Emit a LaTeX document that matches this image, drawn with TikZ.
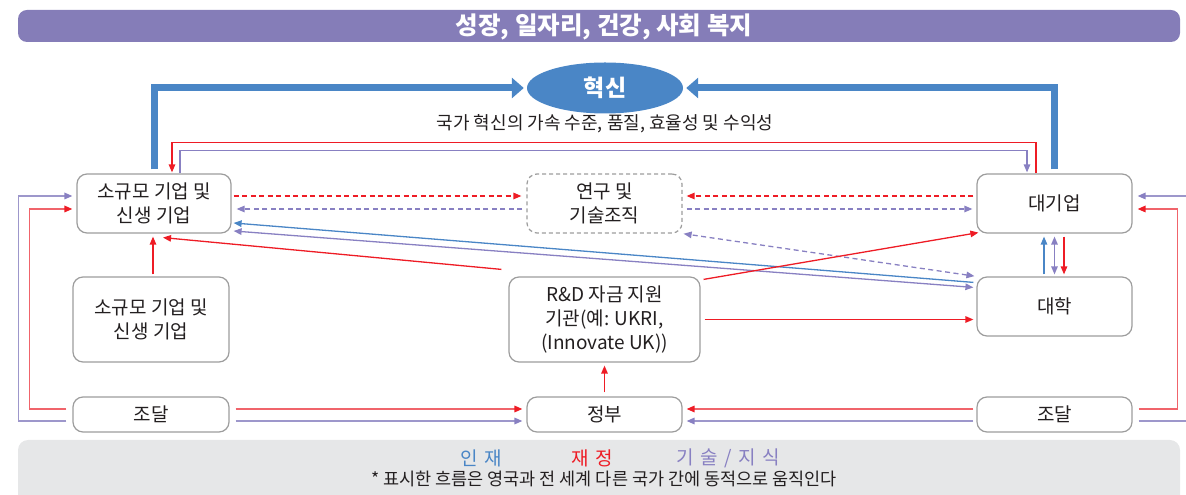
\documentclass[tikz,border=0pt]{standalone}
\usepackage{fontspec}
\setmainfont{Noto Sans CJK KR}
\usetikzlibrary{arrows.meta,shapes.geometric}

\definecolor{flowblue}{HTML}{4A86C6}
\definecolor{flowred}{HTML}{EE1C25}
\definecolor{flowpurple}{HTML}{8880C2}
\definecolor{softred}{HTML}{F0646B}
\definecolor{softpurple}{HTML}{9D97CB}
\definecolor{titlebar}{HTML}{857DB8}
\definecolor{notebg}{HTML}{E6E7E8}
\definecolor{boxline}{HTML}{9D9D9D}
\definecolor{inktext}{HTML}{231F20}

\tikzset{
  unit/.style={draw=boxline, line width=1.2pt, rounded corners=10pt, fill=white,
    text=inktext, align=center, inner sep=0pt, font=\fontsize{19}{24}\selectfont},
  unitdash/.style={unit, dash pattern=on 4pt off 3pt},
  talent/.style={draw=flowblue, line width=1.3pt, ->},
  finance/.style={draw=flowred, line width=1.3pt, ->},
  know/.style={draw=flowpurple, line width=1.3pt, ->},
  finsoft/.style={draw=softred, line width=1.6pt, -{Triangle[length=8pt,width=6.5pt,color=flowred]}},
  knowsoft/.style={draw=softpurple, line width=1.6pt, -{Triangle[length=8pt,width=6.5pt,color=flowpurple]}},
  bigflow/.style={draw=flowblue, line width=7pt, -{Triangle[length=12pt,width=20pt]}},
  loose/.style={dash pattern=on 5pt off 3.5pt},
  keytext/.style={font=\fontsize{19}{19}\selectfont}
}

\begin{document}
\begin{tikzpicture}[x=1pt, y=1pt, >={Triangle[length=8pt,width=6.5pt]}]
  \useasboundingbox (0,0) rectangle (1186,495);

  % heading
  \fill[titlebar, rounded corners=9pt] (18,453) rectangle (1180,485);
  \node[text=white, font=\bfseries\fontsize{24.5}{24.5}\selectfont] (goal) at (604,468) {성장, 일자리, 건강, 사회 복지};
  \node[ellipse, fill=flowblue, minimum width=156pt, minimum height=51pt, inner sep=0pt,
    text=white, font=\bfseries\fontsize{23}{23}\selectfont] (innov) at (605,407) {혁신};
  \node[text=inktext, font=\fontsize{18}{18}\selectfont] (gain) at (605,371) {국가 혁신의 가속 수준, 품질, 효율성 및 수익성};

  % actors
  \node[unit, minimum width=154pt, minimum height=59pt] (sme) at (154,291.5) {소규모 기업 및\\신생 기업};
  \node[unit, minimum width=156pt, minimum height=85pt] (sme2) at (151,175.5) {소규모 기업 및\\신생 기업};
  \node[unit, minimum width=156pt, minimum height=35pt] (procL) at (151,80.5) {조달};
  \node[unitdash, minimum width=155pt, minimum height=59pt] (rto) at (604.5,291.5) {연구 및\\기술조직};
  \node[unit, minimum width=191pt, minimum height=85pt] (rnd) at (604.5,175.5) {R\&D 자금 지원\\기관(예: UKRI,\\(Innovate UK))};
  \node[unit, minimum width=155pt, minimum height=35pt] (gov) at (604.5,80.5) {정부};
  \node[unit, minimum width=155pt, minimum height=59pt] (large) at (1054.5,291.5) {대기업};
  \node[unit, minimum width=155pt, minimum height=59pt] (univ) at (1054.5,188.5) {대학};
  \node[unit, minimum width=155pt, minimum height=35pt] (procR) at (1054.5,80.5) {조달};

  % into innovation
  \draw[bigflow, shorten <=4pt, shorten >=3pt] (sme.north) |- (innov.west);
  \draw[bigflow, shorten <=4pt, shorten >=3pt] (large.north) |- (innov.east);

  % top loop
  \draw[finance, shorten >=1pt] ([xshift=-18.5]large.north) -- ++(0,31) -| ([xshift=18]sme.north);
  \draw[know, shorten >=1pt] ([xshift=26]sme.north) -- ++(0,23) -| ([xshift=-27.5]large.north);

  % research organisations
  \draw[finance, loose] ([shift={(2,7.5)}]sme.east) -- ([shift={(-5,7.5)}]rto.west);
  \draw[know, loose] ([shift={(-4,-5.5)}]rto.west) -- ([shift={(5,-5.5)}]sme.east);
  \draw[finance, loose] ([shift={(-3,7.5)}]large.west) -- ([shift={(4,7.5)}]rto.east);
  \draw[know, loose] ([shift={(4,-5.5)}]rto.east) -- ([shift={(-4,-5.5)}]large.west);
  \draw[know, loose, <->, shorten <=2pt, shorten >=1pt] (univ.north west) -- (rto.south east);

  % university links
  \draw[talent] ([shift={(-3,-6)}]univ.north west) -- ([shift={(2,-19.5)}]sme.east);
  \draw[know, <->] ([shift={(-3,-11)}]univ.north west) -- ([shift={(2,-27.5)}]sme.east);
  \draw[talent, shorten <=2pt, shorten >=3pt] ([xshift=-10.5]univ.north) -- ([xshift=-10.5]large.south);
  \draw[know, <->, shorten <=2pt, shorten >=3pt] (univ.north) -- (large.south);
  \draw[finance, shorten <=3pt, shorten >=2pt] ([xshift=9.5]large.south) -- ([xshift=9.5]univ.north);

  % funding body
  \draw[finance] ([shift={(-7,7)}]rnd.north west) -- ([shift={(9,-4)}]sme.south);
  \draw[finance] ([shift={(3,-3)}]rnd.north east) -- ([shift={(2,1)}]large.south west);
  \draw[finance] ([xshift=4]rnd.east) -- ([xshift=-3,yshift=-13]univ.west);
  \draw[finance, shorten <=4pt, shorten >=3pt] (gov.north) -- (rnd.south);
  \draw[finance] ([shift={(2,2)}]sme2.north) -- ([shift={(-1,-3)}]sme.south);

  % procurement
  \draw[finsoft] ([shift={(-6,5.5)}]procL.west) -- ++(-37,0) |- ([shift={(-4,-5.5)}]sme.west);
  \draw[knowsoft] ([shift={(-6,-6.5)}]procL.west) -- ++(-48,0) |- ([shift={(-4,7.5)}]sme.west);
  \draw[finsoft] ([shift={(6,5.5)}]procR.east) -- ++(39,0) |- ([shift={(5,-5.5)}]large.east);
  \draw[knowsoft] ([shift={(6,-6.5)}]procR.east) -- ++(60,0) |- ([shift={(5,7.5)}]large.east);
  \draw[finsoft] ([shift={(6,5.5)}]procL.east) -- ([shift={(-4,5.5)}]gov.west);
  \draw[knowsoft] ([shift={(6,-6.5)}]procL.east) -- ([shift={(-4,-6.5)}]gov.west);
  \draw[finsoft] ([shift={(-3,5.5)}]procR.west) -- ([shift={(4,5.5)}]gov.east);
  \draw[knowsoft] ([shift={(-3,-6.5)}]procR.west) -- ([shift={(4,-6.5)}]gov.east);

  % key
  \fill[notebg, rounded corners=10pt] (18,-20) rectangle (1180,55);
  \node[keytext, text=flowblue] (keytalent) at (481,37) {인\hspace{0.35em}재};
  \node[keytext, text=flowred] (keyfin) at (592,37) {재\hspace{0.35em}정};
  \node[keytext, text=flowpurple] (keyknow) at (728,37) {기\hspace{0.35em}술\hspace{0.35em}/\hspace{0.35em}지\hspace{0.35em}식};
  \node[text=inktext, font=\fontsize{17.5}{17.5}\selectfont] (note) at (604,16) {* 표시한 흐름은 영국과 전 세계 다른 국가 간에 동적으로 움직인다};
\end{tikzpicture}
\end{document}
